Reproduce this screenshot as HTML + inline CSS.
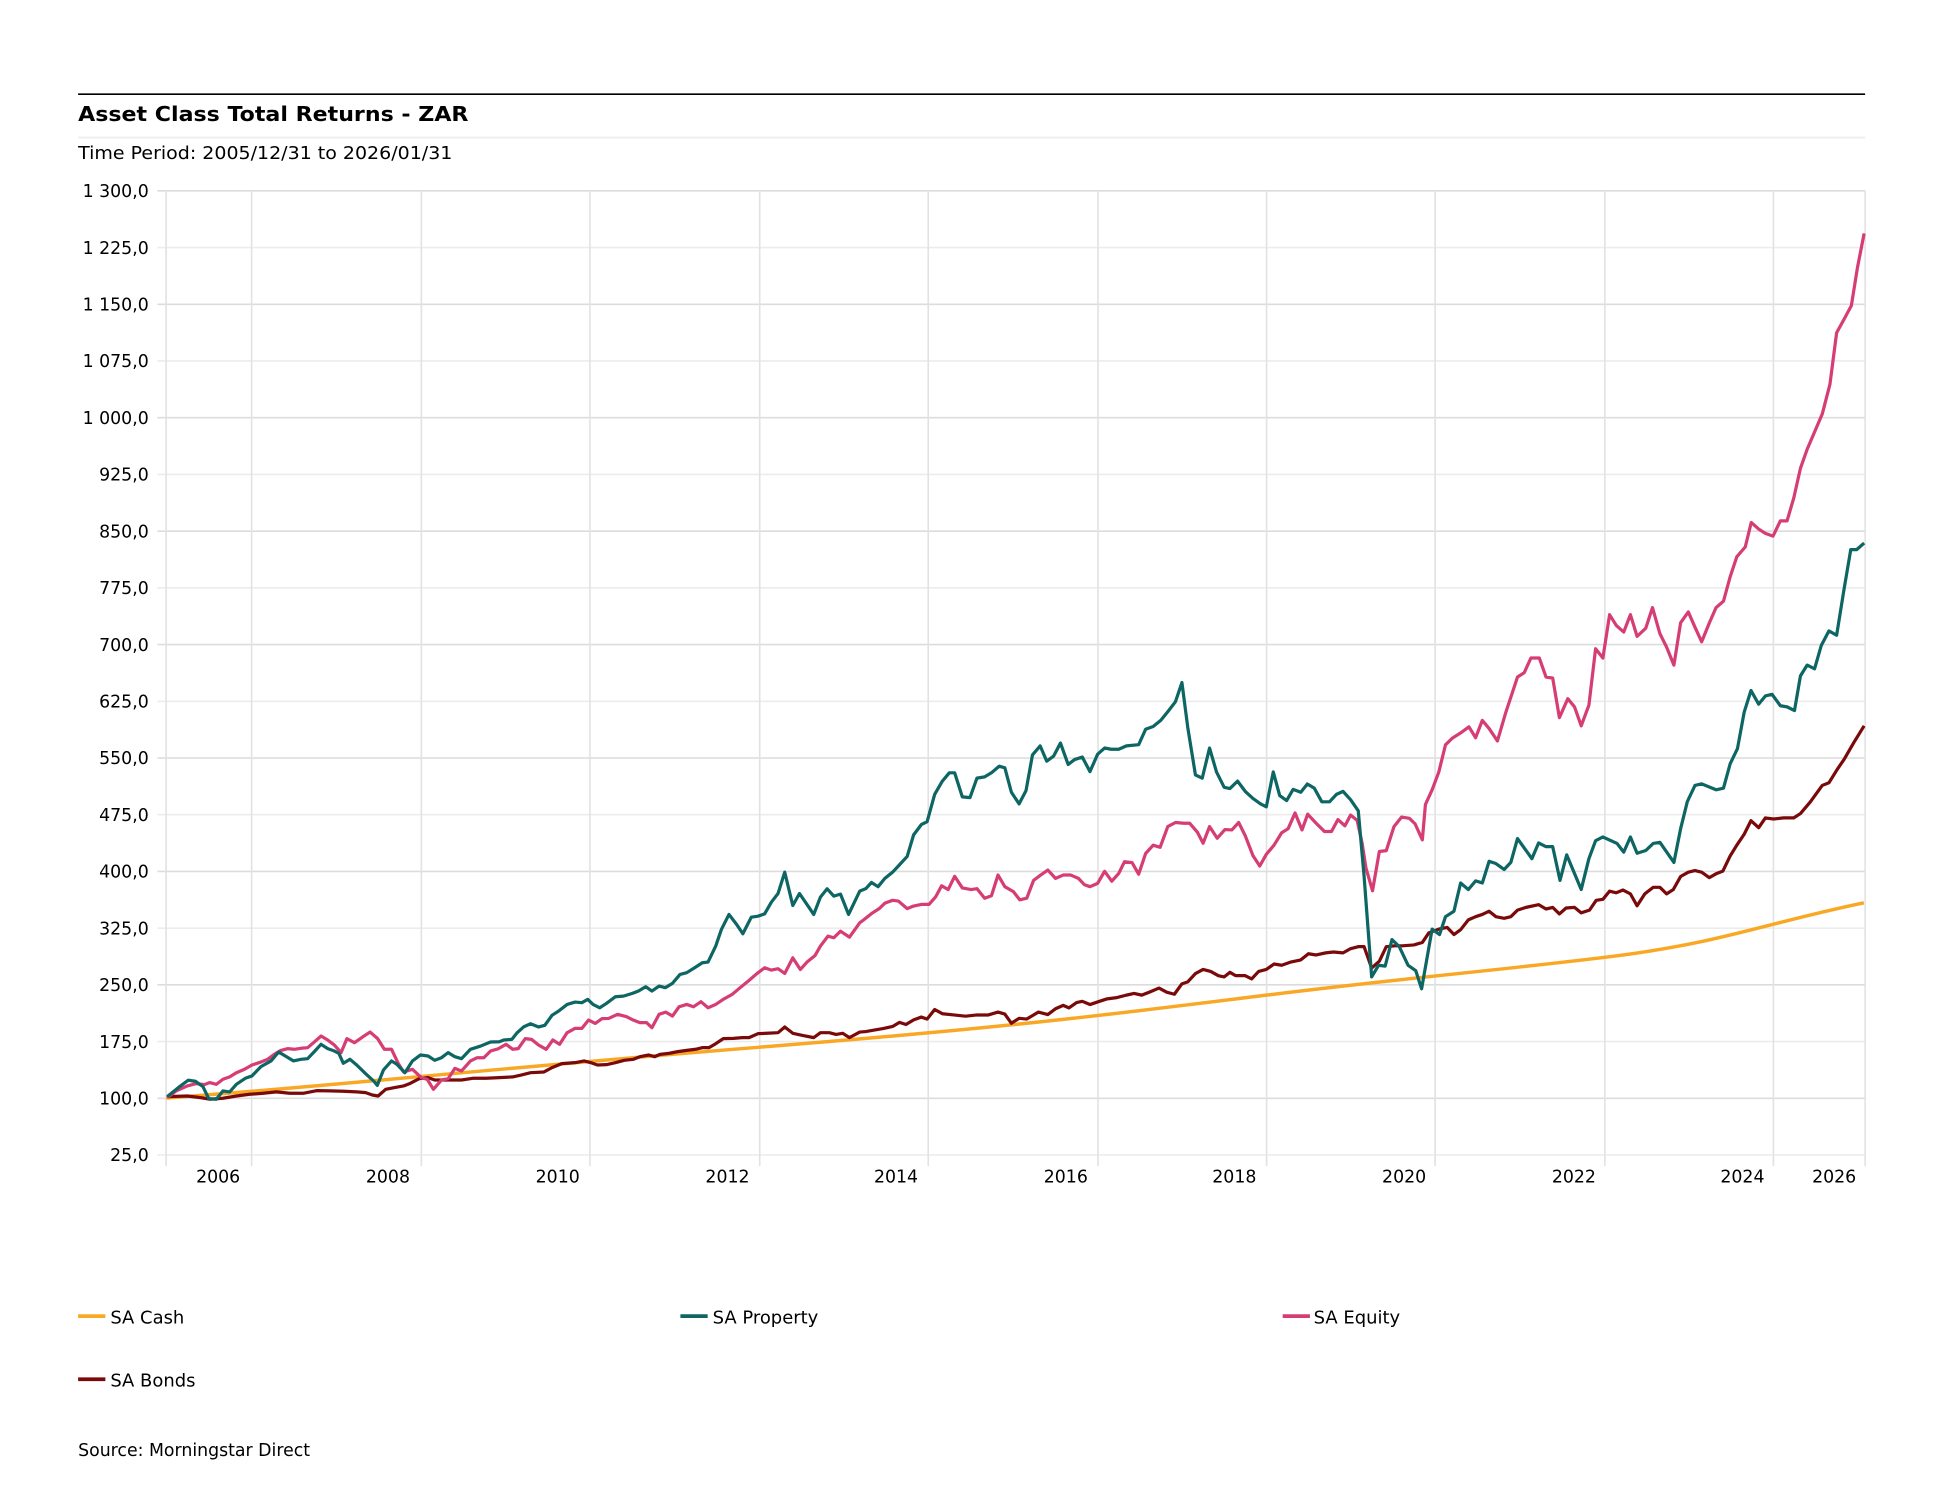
<!DOCTYPE html>
<html><head><meta charset="utf-8"><style>
html,body{margin:0;padding:0;background:#fff;}
svg{display:block;}
text{font-family:"DejaVu Sans","Liberation Sans",sans-serif;fill:#000;}
</style></head><body>
<svg id="c" width="1942" height="1500" viewBox="0 0 1567 1210.4" xmlns="http://www.w3.org/2000/svg">
<line x1="63" y1="76" x2="1505" y2="76" stroke="#000" stroke-width="1.3"/>
<text x="63" y="97.5" font-size="16.5" font-weight="bold" textLength="315" lengthAdjust="spacingAndGlyphs">Asset Class Total Returns - ZAR</text>
<line x1="63" y1="111" x2="1505" y2="111" stroke="#eee" stroke-width="1.5"/>
<text x="63" y="128.5" font-size="14" textLength="302" lengthAdjust="spacingAndGlyphs">Time Period: 2005/12/31 to 2026/01/31</text>
<g id="grid"></g>
<g id="ylab" font-size="14" text-anchor="end"></g>
<g font-size="14" text-anchor="middle">
<text x="176" y="954">2006</text><text x="313" y="954">2008</text><text x="450" y="954">2010</text><text x="587" y="954">2012</text><text x="723" y="954">2014</text><text x="860" y="954">2016</text><text x="996" y="954">2018</text><text x="1133" y="954">2020</text><text x="1270" y="954">2022</text><text x="1406" y="954">2024</text><text x="1480" y="954">2026</text>
</g>
<g id="series" fill="none" stroke-width="2.6" stroke-linejoin="round"></g>
<g font-size="14.5">
<line x1="63" y1="1062" x2="85" y2="1062" stroke="#f9a825" stroke-width="3"/><text x="89" y="1068">SA Cash</text>
<line x1="549" y1="1062" x2="571" y2="1062" stroke="#0d6663" stroke-width="3"/><text x="575" y="1068">SA Property</text>
<line x1="1035" y1="1062" x2="1057" y2="1062" stroke="#d63d74" stroke-width="3"/><text x="1060" y="1068">SA Equity</text>
<line x1="63" y1="1113" x2="85" y2="1113" stroke="#7a0a0a" stroke-width="3"/><text x="89" y="1119">SA Bonds</text>
<text x="63" y="1175" font-size="14">Source: Morningstar Direct</text>
</g>
</svg>
<script>
var NS="http://www.w3.org/2000/svg";
function el(p,t,a){var e=document.createElementNS(NS,t);for(var k in a)e.setAttribute(k,a[k]);p.appendChild(e);return e;}
var g=document.getElementById('grid'),yl=document.getElementById('ylab');
var labs=["1 300,0","1 225,0","1 150,0","1 075,0","1 000,0","925,0","850,0","775,0","700,0","625,0","550,0","475,0","400,0","325,0","250,0","175,0","100,0","25,0"];
for(var i=0;i<18;i++){var y=154+i*45.765;el(g,'line',{x1:127,y1:y,x2:1505,y2:y,stroke:i%2?'#ececec':'#dcdcdc','stroke-width':1.3});
var t=el(yl,'text',{x:120,y:y+5});t.textContent=labs[i];}
[134,203,340,476,613,749,886,1022,1158,1295,1431,1505].forEach(function(x,i){el(g,'line',{x1:x,y1:154,x2:x,y2:941,stroke:'#e2e2e2','stroke-width':1.3});});
function z4(p){return [129.5+0.3598*p[0],484.0+0.2687*p[1]];}
function z5(p){return [686.2+0.3093*p[0],323.0+0.334*p[1]];}
function z6(p){return [1128.6+0.2702*p[0],161.3+0.4375*p[1]];}
function build(a,b,c){var pts=[];a.forEach(function(p){pts.push(z4(p));});
b.forEach(function(p){var q=z5(p);if(q[0]>pts[pts.length-1][0]&&p[0]<=1500)pts.push(q);});
c.forEach(function(p){var q=z6(p);if(q[0]>pts[pts.length-1][0])pts.push(q);});
return pts.map(function(q){return q[0].toFixed(1)+','+q[1].toFixed(1);}).join(' ');}
var P4=[[15,1492],[40,1465],[62,1443],[78,1446],[95,1462],[108,1498],[125,1500],[140,1475],[155,1478],[170,1455],[190,1437],[205,1430],[225,1402],[248,1385],[265,1358],[280,1370],[298,1385],[315,1380],[330,1378],[345,1357],[360,1335],[375,1348],[390,1355],[400,1362],[410,1392],[425,1380],[440,1397],[460,1423],[478,1445],[486,1458],[500,1412],[518,1385],[530,1395],[548,1420],[565,1385],[583,1367],[600,1370],[615,1383],[630,1375],[645,1360],[660,1372],[675,1378],[695,1350],[718,1340],[740,1328],[760,1327],[770,1322],[788,1320],[800,1300],[815,1282],[830,1273],[848,1283],[862,1278],[878,1248],[893,1235],[912,1215],[930,1208],[945,1210],[958,1200],[970,1215],[985,1225],[1000,1212],[1020,1192],[1038,1190],[1058,1182],[1072,1175],[1088,1162],[1102,1175],[1118,1160],[1132,1165],[1148,1152],[1165,1125],[1180,1120],[1198,1105],[1215,1090],[1228,1088],[1245,1040],[1258,990],[1275,945],[1292,975],[1306,1003],[1325,953],[1340,950],[1355,943],[1370,908],[1385,882],[1400,818],[1418,918],[1433,882],[1450,915],[1465,945],[1480,893],[1495,868],[1510,890],[1525,884],[1543,945],[1568,875]];
var P5=[[0,1245],[20,1210],[40,1180],[55,1165],[72,1175],[90,1155],[110,1140],[125,1125],[148,1102],[165,1050],[185,1025],[200,1018],[220,952],[240,920],[258,900],[272,900],[292,958],[312,960],[330,913],[350,910],[368,900],[388,884],[403,888],[420,947],[440,975],[458,943],[475,857],[495,835],[512,872],[530,860],[548,828],[568,880],[585,868],[605,862],[625,897],[645,855],[663,840],[680,843],[700,843],[720,835],[752,832],[770,795],[790,788],[810,773],[830,750],[848,728],[865,682],[880,790],[900,905],[918,913],[937,840],[955,898],[975,935],[990,938],[1010,920],[1030,945],[1050,962],[1070,975],[1085,982],[1103,898],[1120,955],[1138,967],[1155,940],[1175,947],[1192,927],[1210,937],[1230,970],[1250,970],[1268,952],[1285,945],[1305,965],[1325,992],[1340,1150],[1360,1393],[1378,1365],[1395,1367],[1413,1303],[1432,1320],[1455,1365],[1475,1378],[1490,1422]];
var P6=[[60,1455],[100,1345],[122,1355],[140,1322],[165,1312],[185,1260],[208,1272],[230,1256],[250,1260],[270,1220],[290,1224],[315,1235],[335,1222],[355,1178],[398,1215],[418,1186],[440,1193],[460,1193],[482,1255],[502,1208],[545,1272],[568,1215],[588,1182],[610,1175],[652,1187],[672,1203],[692,1175],[712,1205],[738,1200],[760,1187],[780,1185],[822,1222],[842,1160],[862,1110],[885,1080],[905,1077],[948,1088],[970,1085],[990,1040],[1012,1012],[1032,945],[1052,905],[1075,930],[1095,915],[1115,912],[1140,933],[1160,935],[1182,942],[1200,878],[1220,858],[1242,865],[1262,822],[1285,795],[1308,803],[1330,718],[1350,645],[1368,645],[1390,633]];
var E4=[[15,1495],[35,1475],[60,1460],[80,1453],[98,1456],[110,1450],[125,1455],[140,1440],[155,1433],[170,1420],[188,1410],[205,1397],[225,1388],[240,1380],[255,1365],[270,1353],[285,1348],[300,1350],[315,1347],[330,1345],[345,1328],[360,1310],[375,1322],[390,1337],[405,1360],[418,1318],[435,1330],[453,1313],[470,1298],[487,1318],[502,1350],[518,1350],[533,1392],[545,1418],[565,1410],[585,1435],[598,1440],[612,1470],[630,1442],[645,1438],[660,1407],[675,1415],[695,1385],[710,1375],[725,1375],[740,1355],[758,1348],[775,1335],[790,1350],[802,1348],[818,1318],[832,1320],[848,1337],[865,1350],[880,1322],[895,1335],[912,1300],[930,1287],[945,1287],[960,1262],[975,1272],[990,1258],[1005,1257],[1025,1245],[1045,1252],[1060,1262],[1075,1270],[1090,1270],[1102,1285],[1118,1245],[1133,1238],[1148,1250],[1163,1222],[1180,1215],[1195,1222],[1212,1207],[1228,1225],[1245,1215],[1262,1200],[1282,1185],[1300,1165],[1318,1145],[1338,1122],[1355,1105],[1370,1112],[1385,1108],[1400,1122],[1418,1075],[1435,1110],[1450,1088],[1468,1068],[1480,1040],[1497,1010],[1510,1015],[1525,995],[1545,1013],[1568,970]];
var E5=[[0,1295],[15,1268],[35,1255],[55,1240],[75,1228],[90,1215],[110,1208],[125,1210],[148,1228],[165,1222],[185,1218],[205,1218],[222,1200],[238,1173],[255,1182],[272,1150],[292,1178],[315,1182],[330,1180],[350,1203],[368,1197],[385,1147],[403,1175],[425,1187],[442,1207],[460,1203],[478,1160],[495,1148],[515,1135],[535,1155],[555,1147],[575,1147],[595,1155],[610,1170],[625,1175],[645,1167],[663,1138],[682,1162],[700,1143],[715,1115],[735,1117],[752,1145],[770,1095],[790,1075],[808,1080],[828,1030],[848,1020],[870,1022],[885,1022],[905,1043],[920,1070],[937,1030],[957,1058],[977,1037],[995,1038],[1013,1020],[1030,1052],[1050,1100],[1068,1125],[1085,1097],[1105,1075],[1125,1045],[1142,1035],[1160,997],[1178,1038],[1193,1000],[1215,1022],[1237,1042],[1255,1042],[1272,1013],[1290,1028],[1305,1002],[1322,1015],[1335,1070],[1345,1130],[1362,1185],[1380,1090],[1398,1088],[1418,1030],[1438,1007],[1458,1010],[1473,1023],[1492,1062]];
var E6=[[60,1178],[80,1115],[100,1088],[120,1055],[140,1005],[160,993],[185,983],[210,972],[230,992],[250,960],[270,975],[295,998],[320,945],[355,880],[375,872],[395,845],[420,845],[440,880],[460,882],[480,955],[505,920],[525,935],[545,970],[568,932],[588,828],[610,845],[630,765],[650,785],[672,797],[692,765],[712,805],[738,790],[758,752],[780,800],[800,825],[822,858],[842,780],[865,760],[885,788],[905,815],[928,780],[948,752],[970,740],[990,695],[1010,658],[1035,640],[1053,595],[1075,607],[1095,615],[1118,620],[1140,592],[1160,592],[1180,550],[1200,495],[1220,460],[1242,428],[1265,395],[1288,340],[1308,245],[1330,220],[1352,195],[1370,125],[1390,62]];
var B4=[[15,1492],[60,1490],[90,1495],[110,1500],[140,1497],[170,1490],[200,1485],[230,1482],[260,1478],[290,1482],[320,1482],[350,1474],[380,1475],[410,1476],[440,1478],[460,1480],[475,1487],[488,1490],[505,1470],[525,1465],[545,1460],[560,1452],[580,1438],[600,1435],[615,1442],[640,1442],[675,1442],[700,1437],[730,1437],[760,1435],[790,1433],[810,1427],[830,1420],[860,1418],[878,1405],[900,1393],[930,1390],[950,1385],[965,1390],[980,1397],[1000,1396],[1020,1390],[1040,1383],[1060,1380],[1075,1372],[1095,1367],[1108,1372],[1120,1365],[1140,1362],[1160,1357],[1180,1353],[1200,1350],[1215,1345],[1230,1345],[1245,1333],[1262,1318],[1285,1317],[1305,1315],[1320,1315],[1340,1303],[1360,1302],[1385,1300],[1400,1283],[1418,1302],[1440,1308],[1465,1315],[1480,1300],[1500,1300],[1515,1305],[1530,1302],[1545,1315],[1568,1298]];
var B5=[[0,1535],[20,1528],[40,1525],[60,1522],[85,1518],[110,1513],[128,1503],[145,1508],[165,1497],[185,1490],[200,1495],[220,1472],[240,1482],[270,1485],[300,1488],[330,1485],[360,1485],[385,1478],[403,1483],[420,1505],[440,1493],[460,1495],[490,1478],[515,1484],[535,1470],[555,1462],[570,1468],[590,1455],[605,1452],[625,1460],[650,1452],[670,1446],[695,1443],[720,1437],[740,1433],[760,1437],[780,1430],[805,1420],[825,1430],[845,1435],[865,1410],[880,1405],[900,1385],[920,1375],[940,1380],[960,1390],[975,1393],[990,1382],[1005,1390],[1030,1390],[1047,1398],[1065,1380],[1085,1375],[1105,1362],[1125,1365],[1150,1357],[1175,1352],[1195,1337],[1215,1340],[1240,1335],[1260,1333],[1285,1335],[1305,1325],[1325,1320],[1340,1320],[1360,1372],[1380,1355],[1398,1320],[1420,1318],[1440,1318],[1470,1316],[1492,1310]];
var B6=[[60,1370],[90,1352],[120,1345],[145,1342],[165,1355],[185,1346],[208,1328],[230,1322],[250,1318],[270,1312],[290,1322],[315,1325],[335,1322],[355,1310],[380,1305],[418,1300],[440,1308],[460,1305],[480,1317],[500,1306],[525,1305],[545,1315],[570,1310],[590,1292],[610,1290],[630,1275],[650,1278],[670,1273],[692,1280],[712,1302],[735,1280],[760,1268],[780,1268],[800,1280],[820,1272],[842,1248],[865,1240],[885,1237],[905,1240],[928,1250],[948,1243],[968,1238],[990,1210],[1010,1190],[1032,1170],[1052,1145],[1075,1158],[1095,1140],[1120,1142],[1150,1140],[1180,1140],[1200,1132],[1230,1110],[1265,1080],[1285,1075],[1310,1050],[1330,1032],[1360,1000],[1390,970]];
var s=document.getElementById('series');
el(s,'path',{d:"M134,886 C250,878 400,862 613,845 S900,818 1022,803 S1200,784 1295,772.5 S1420,746 1504,728.5",stroke:'#f9a825','stroke-width':2.8});
el(s,'polyline',{points:build(B4,B5,B6),stroke:'#7a0a0a'});
el(s,'polyline',{points:build(E4,E5,E6),stroke:'#d63d74'});
el(s,'polyline',{points:build(P4,P5,P6),stroke:'#0d6663'});
</script>
</body></html>
